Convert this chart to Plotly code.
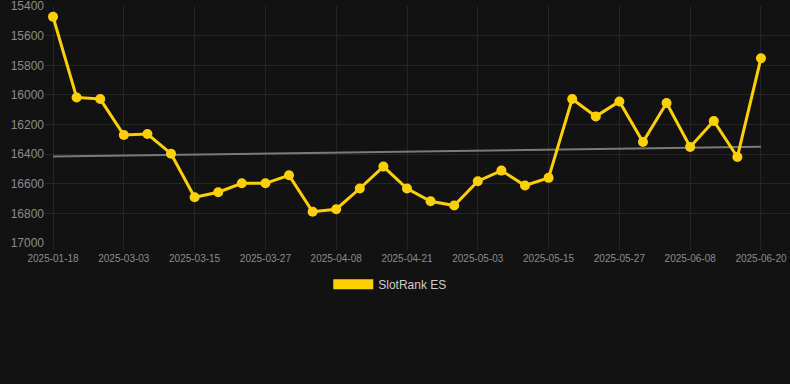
import numpy as np
import plotly.graph_objects as go

dates = ["2025-01-18", "2025-02-07", "2025-02-21", "2025-03-03", "2025-03-07", "2025-03-11",
         "2025-03-15", "2025-03-19", "2025-03-23", "2025-03-27", "2025-03-31", "2025-04-04",
         "2025-04-08", "2025-04-12", "2025-04-17", "2025-04-21", "2025-04-25", "2025-04-29",
         "2025-05-03", "2025-05-07", "2025-05-11", "2025-05-15", "2025-05-19", "2025-05-23",
         "2025-05-27", "2025-05-31", "2025-06-04", "2025-06-08", "2025-06-12", "2025-06-16",
         "2025-06-20"]
ranks = [15472, 16017, 16028, 16271, 16264, 16397, 16691, 16657, 16597, 16597, 16543,
         16789, 16772, 16632, 16484, 16632, 16718, 16747, 16583, 16511, 16612, 16560,
         16028, 16145, 16044, 16318, 16055, 16351, 16176, 16419, 15752]
tick_labels = dates[::3]
y_ticks = [15400, 15600, 15800, 16000, 16200, 16400, 16600, 16800, 17000]
series_name = "SlotRank ES"

idx = np.arange(len(ranks))
coef = np.polyfit(idx, ranks, 1)
trend = np.polyval(coef, idx)

YELLOW = "#FFD000"
BG = "#121212"
GRID = "#252525"
FONT = "Liberation Sans, Arial, sans-serif"

fig = go.Figure()
fig.add_trace(go.Scatter(
    x=dates, y=trend, mode="lines",
    line=dict(color="#7a7a7a", width=2),
    showlegend=False, hoverinfo="skip"))
fig.add_trace(go.Scatter(
    x=dates, y=ranks, mode="lines+markers",
    line=dict(color=YELLOW, width=3),
    marker=dict(color=YELLOW, size=10),
    cliponaxis=False, showlegend=False, name=series_name))
# legend swatch entry
fig.add_trace(go.Scatter(
    x=[None], y=[None], mode="lines",
    line=dict(color=YELLOW, width=12),
    name=series_name, showlegend=True))

fig.update_layout(
    width=790, height=384,
    margin=dict(l=45, r=0, t=6, b=141),
    paper_bgcolor=BG, plot_bgcolor=BG,
    font=dict(family=FONT, color="#999999", size=12),
    legend=dict(orientation="h", xref="container", yref="container",
                x=0.494, xanchor="center", y=0.26, yanchor="middle",
                itemwidth=40,
                font=dict(size=12, color="#cccccc"), bgcolor="rgba(0,0,0,0)"),
    xaxis=dict(type="category", categoryorder="array", categoryarray=dates,
               range=[-0.34, 31.23], tickmode="array", tickvals=tick_labels,
               ticktext=tick_labels, showgrid=True, gridcolor=GRID, gridwidth=1,
               ticks="outside", ticklen=6, tickcolor=GRID,
               tickfont=dict(size=10, color="#8c8c8c"), zeroline=False,
               showline=False),
    yaxis=dict(range=[17000, 15399.5], tickmode="array", tickvals=y_ticks,
               ticktext=[str(v) for v in y_ticks], ticklabeloverflow="allow",
               showgrid=True, gridcolor=GRID, gridwidth=1, zeroline=False,
               tickfont=dict(size=12, color="#8c8c8c"), ticks="", showline=False),
)

fig.write_html("out.html")
